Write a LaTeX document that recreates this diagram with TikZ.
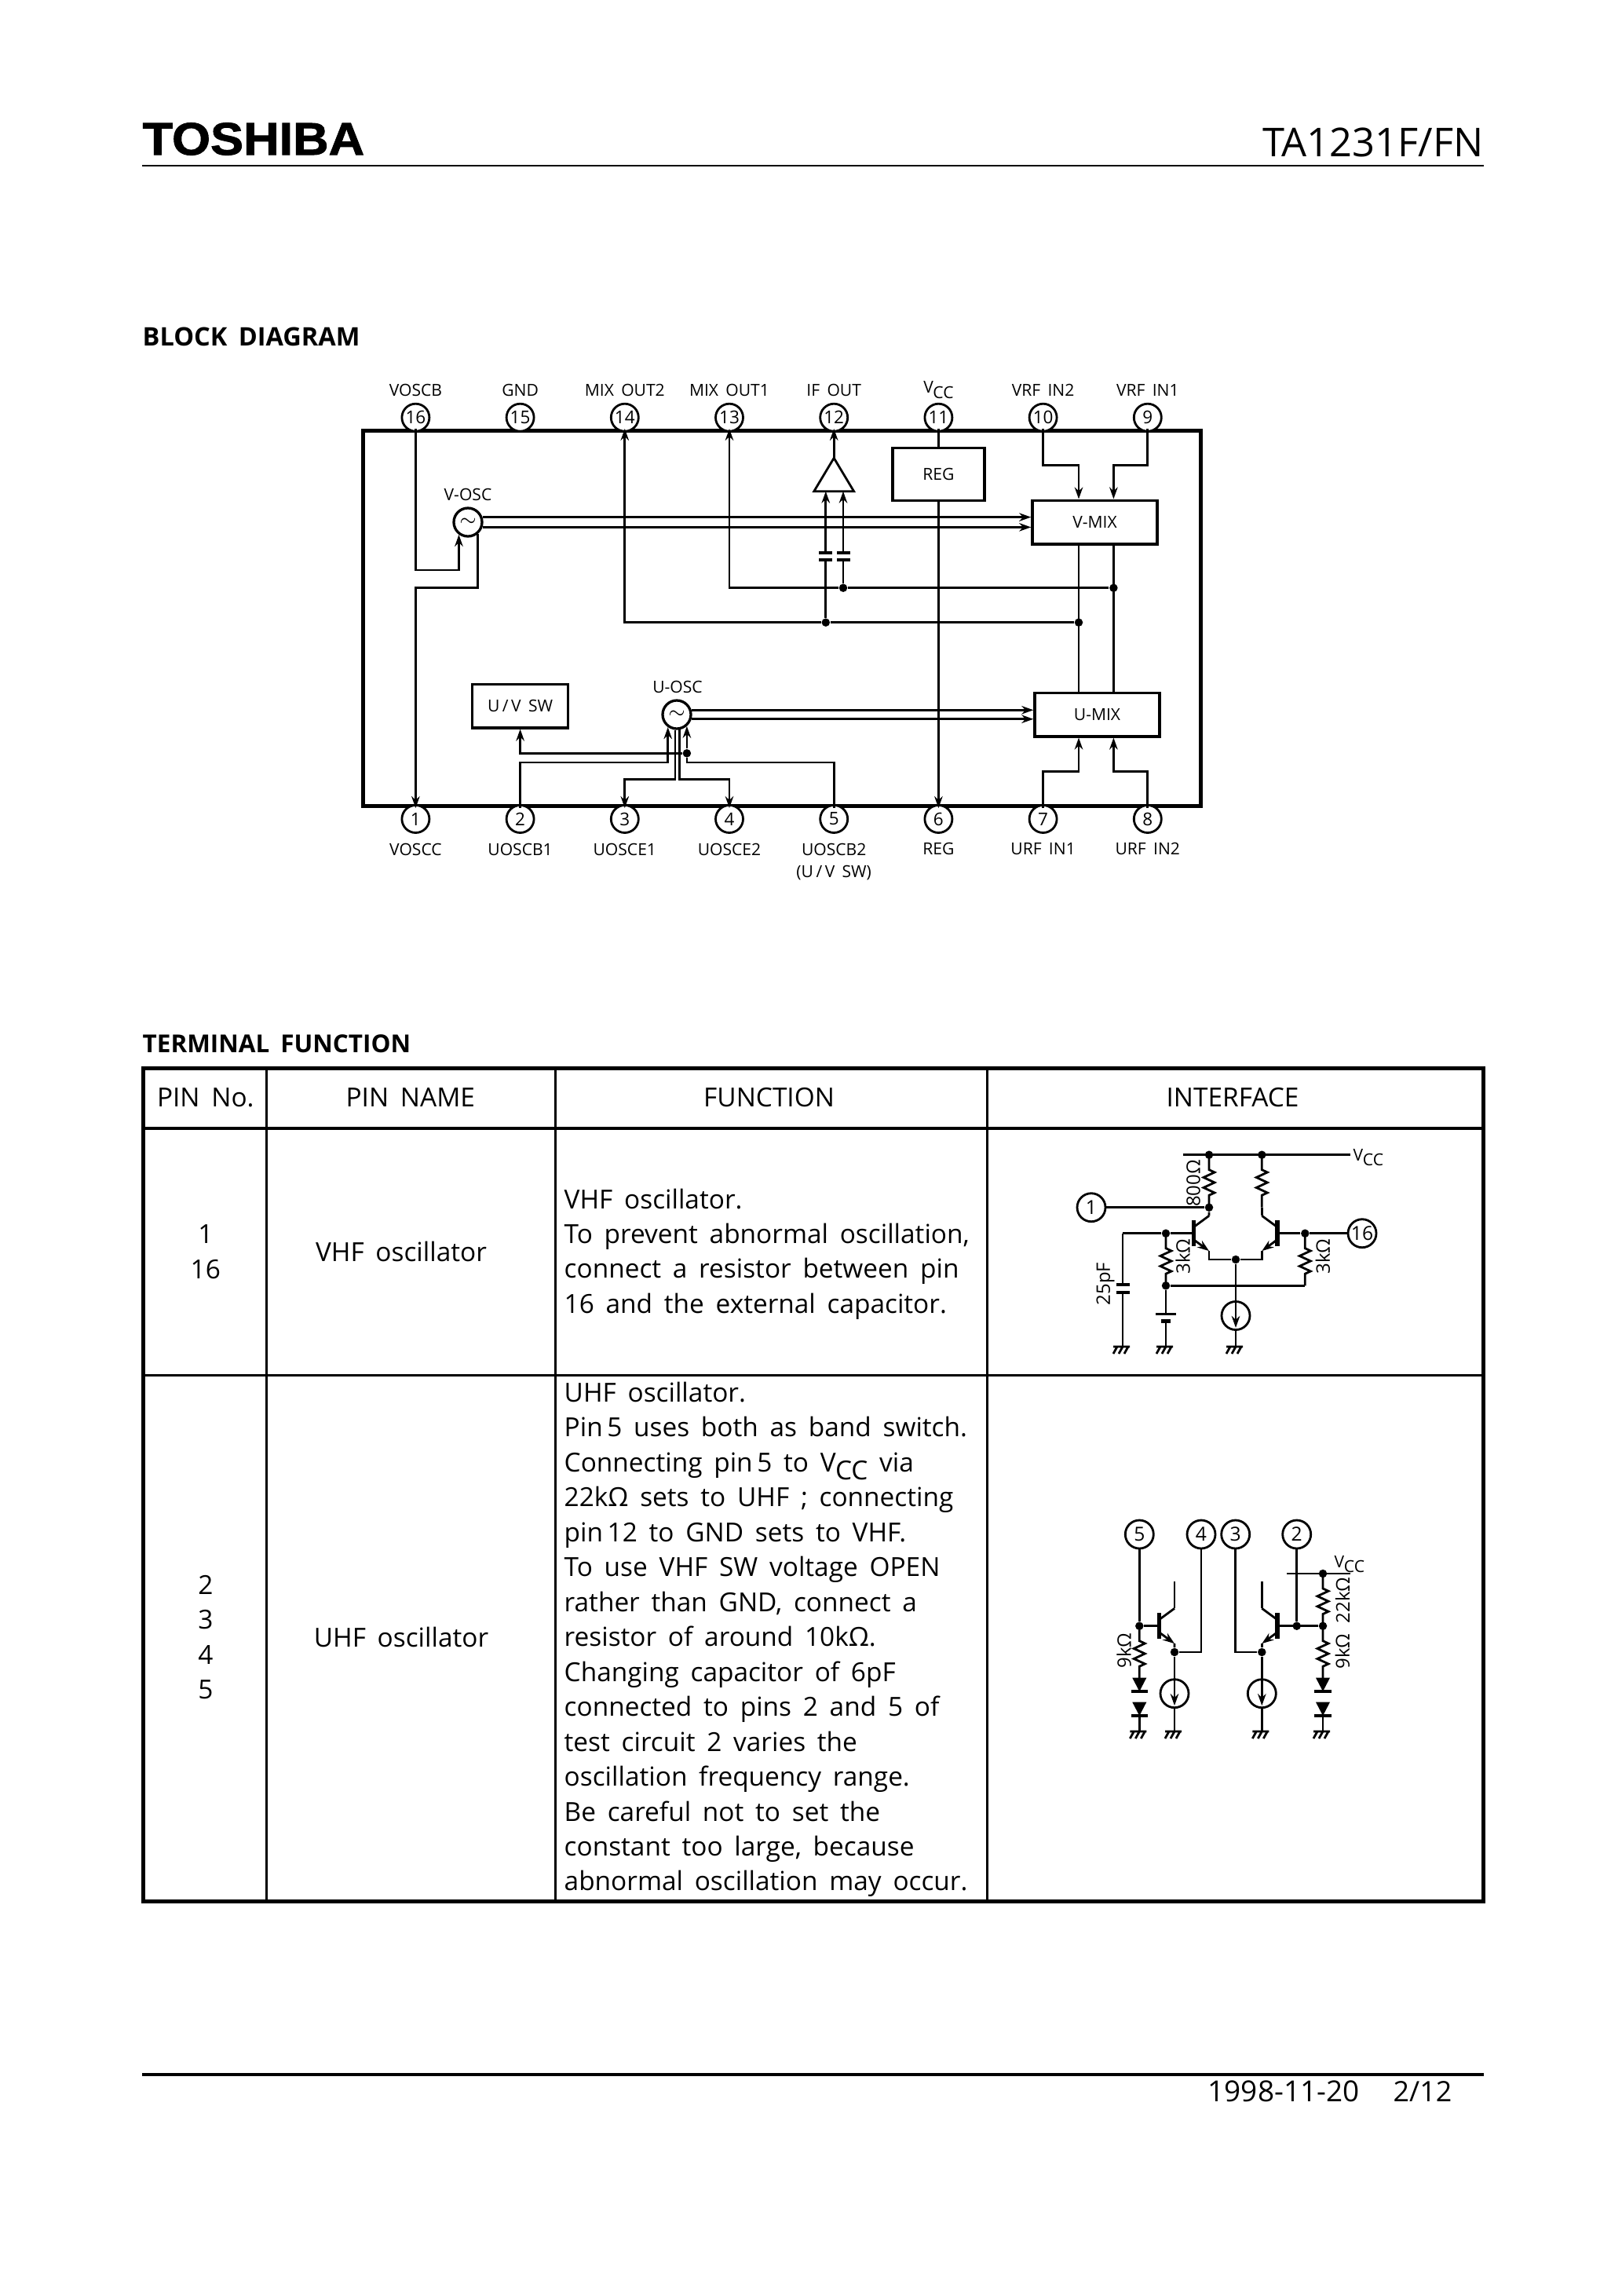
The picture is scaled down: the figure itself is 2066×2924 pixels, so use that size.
\documentclass[tikz,border=0pt]{standalone}
\usepackage{fontspec}
\setmainfont[WordSpace=1.7]{Open Sans}
\newfontfamily\logofont[FakeStretch=1.08,BoldFeatures={FakeBold=1.6}]{Liberation Sans}
\usetikzlibrary{shapes.geometric, arrows.meta, decorations.pathmorphing, calc}
\newcommand{\vcc}{V\kern-.02em\raisebox{-.3em}{CC}}

\begin{document}
\begin{tikzpicture}[x=0.1mm, y=-0.1mm,
    sig/.style={line width=.28mm},
    ar/.style={sig, -{Stealth[length=1.5mm,width=1.05mm]}},
    lab/.style={font=\fontsize{6}{8.2}\selectfont, inner sep=0, align=center},
    rlab/.style={font=\fontsize{6.8}{8}\selectfont, inner sep=0, rotate=90},
    pin/.style={circle, draw, sig, fill=white, inner sep=0, minimum size=3.5mm, font=\fontsize{6.4}{7}\selectfont},
    pinb/.style={pin, minimum size=3.6mm, font=\fontsize{7}{8}\selectfont},
    blk/.style={rectangle, draw, line width=.35mm, fill=white, inner sep=0, font=\fontsize{6}{7}\selectfont},
    osc/.style={circle, draw, line width=.33mm, fill=white, inner sep=0, minimum size=3.6mm, font=\fontsize{7}{7}\selectfont},
    dotn/.style={circle, fill=black, inner sep=0, minimum size=1.05mm},
    isrc/.style={circle, draw, sig, minimum size=3.6mm, inner sep=0},
    zz/.style={decorate, decoration={zigzag, segment length=1.3mm, amplitude=.7mm, pre length=1.9mm, post length=1.3mm}},
    cell/.style={inner sep=0, align=left, font=\fontsize{9.5}{12.65}\selectfont},
    ccell/.style={cell, align=center},
    head/.style={inner sep=0, anchor=west, font=\fontsize{9.25}{11}\selectfont\bfseries},
    tabo/.style={line width=.5mm},
    tabh/.style={line width=.4mm},
    tabi/.style={line width=.25mm},
    capv/.pic={\fill (-8.5,-6.8) rectangle (8.5,-2.8); \fill (-8.5,2.8) rectangle (8.5,6.8);},
    batt/.pic={\fill (-13,-5.8) rectangle (13,-3.2); \fill (-6,2.5) rectangle (6,6.8);},
    dio/.pic={\fill (-9,0) -- (9,0) -- (0,17.3) -- cycle; \fill (-10.7,15.3) rectangle (10.7,19.3);},
    gnd/.pic={\draw[sig] (-12,0) -- (9,0) (-7,0) -- (-12,9) (0,0) -- (-5,9) (7,0) -- (2,9);},
    npn/.pic={\draw[line width=.55mm] (0,-16.5) -- (0,16.5);
        \draw[sig] (0,-8) -- (19.6,-22.4) coordinate (-c);
        \draw[ar] (0,8) -- (19.6,22.4) coordinate (-e);
        \coordinate (-b) at (0,0);}]
\useasboundingbox (0,0) rectangle (2066,2924);

% Page head and foot
\node[inner sep=0, anchor=west] (logo) at (181,177) {\logofont\fontsize{16.6}{18}\selectfont\bfseries TOSHIBA};
\node[inner sep=0, anchor=east] (part) at (1890,181) {\fontsize{14.4}{17}\selectfont TA1231F/FN};
\coordinate (hl) at (181,211); \coordinate (hr) at (1890,211);
\draw[line width=.27mm] (hl) -- (hr);
\coordinate (fl) at (181,2642); \coordinate (fr) at (1890,2642);
\draw[line width=.33mm] (fl) -- (fr);
\node[inner sep=0, anchor=west] (date) at (1538,2663) {\fontsize{10.5}{12}\selectfont 1998-11-20};
\node[inner sep=0, anchor=west] (page) at (1774,2663) {\fontsize{10.2}{12}\selectfont 2/12};
\node[head] (hblock) at (181,429) {BLOCK DIAGRAM};
\node[head, font=\fontsize{8.95}{11}\selectfont\bfseries] (hterm) at (181,1329) {TERMINAL FUNCTION};

% Block diagram frame and pins
\node[draw, line width=.55mm, inner sep=0, minimum width=106.7mm, minimum height=47.76mm] (ic) at (996,787.5) {};
\foreach \n/\x/\t in {16/529.4/VOSCB, 15/662.6/GND, 14/795.8/MIX OUT2, 13/929/MIX OUT1, 12/1062.2/IF OUT, 11/1195.4/\vcc, 10/1328.6/VRF IN2, 9/1461.8/VRF IN1} {
    \node[pin] (p\n) at (\x,531.7) {\n};
    \node[lab] (l\n) at (\x,496.7) {\t};
}
\foreach \n/\x/\t in {1/529.4/VOSCC, 2/662.6/UOSCB1, 3/795.8/UOSCE1, 4/929/UOSCE2, 5/1062.2/{UOSCB2\\(U\,/\,V SW)}, 6/1195.4/REG, 7/1328.6/URF IN1, 8/1461.8/URF IN2} {
    \node[pin] (p\n) at (\x,1043) {\n};
    \node[lab, anchor=north] (l\n) at (\x,1073) {\t};
}

% Blocks
\node[blk, minimum width=11.7mm, minimum height=6.7mm] (reg) at (1195.4,604) {REG};
\node[blk, minimum width=15.9mm, minimum height=5.55mm] (vmix) at (1394.5,665) {V-MIX};
\node[blk, minimum width=15.9mm, minimum height=5.55mm] (umix) at (1397.5,910) {U-MIX};
\node[blk, minimum width=12.2mm, minimum height=5.55mm] (uvsw) at (662.6,899) {U\,/\,V SW};
\node[osc] (vosc) at (596,665) {$\sim$};
\node[lab] (lvosc) at (596,630) {V-OSC};
\node[osc] (uosc) at (862,910) {$\sim$};
\node[lab] (luosc) at (863,875) {U-OSC};
\node[draw, sig, isosceles triangle, shape border rotate=90, isosceles triangle stretches, inner sep=0, outer sep=0, minimum width=5.08mm, minimum height=4.24mm, anchor=apex] (amp) at (1062.2,583.3) {};

% Junctions
\node[dotn] (j1) at (1051.8,792.7) {};
\node[dotn] (j2) at (1374,792.7) {};
\node[dotn] (j3) at (1074,748.7) {};
\node[dotn] (j4) at (1418.4,748.7) {};
\node[dotn] (j5) at (uosc.-49 |- 0,959.3) {};

% Oscillator connections
\draw[ar] (vosc.19) -- (vosc.19 -| vmix.west);
\draw[ar] (vosc.-19) -- (vosc.-19 -| vmix.west);
\draw[ar] (uosc.17) -- (uosc.17 -| umix.west);
\draw[ar] (uosc.-17) -- (uosc.-17 -| umix.west);
\draw[ar] (p16 |- ic.north) |- (vosc.-126 |- 0,726) -- (vosc.-126);
\draw[ar] (vosc.-50) |- (p1 |- 0,748.7) -- (p1 |- ic.south);
\draw[ar] (j5) -- (uosc.-49);
\draw[ar] (j5) -| (uvsw.south);
\draw[sig] (p5 |- ic.south) |- (j5 |- 0,971) -- (j5);
\draw[ar] (p2 |- ic.south) |- (uosc.-125 |- 0,971) -- (uosc.-125);
\draw[ar] (uosc.-96) |- (p3 |- 0,992.7) -- (p3 |- ic.south);
\draw[ar] (uosc.-79) |- (p4 |- 0,992.7) -- (p4 |- ic.south);

% Mixer connections
\draw[sig] (j2) -- (j1);
\draw[ar] (j1) -- (j1 -| p14) -- (p14 |- ic.north);
\draw[sig] (j4) -- (j3);
\draw[ar] (j3) -- (j3 -| p13) -- (p13 |- ic.north);
\draw[sig] (vmix.south -| j2) -- (umix.north -| j2);
\draw[sig] (vmix.south -| j4) -- (umix.north -| j4);
\draw[ar] (p10 |- ic.north) |- (j2 |- 0,592.7) -- (j2 |- vmix.north);
\draw[ar] (p9 |- ic.north) |- (j4 |- 0,592.7) -- (j4 |- vmix.north);
\draw[ar] (p7 |- ic.south) |- (j2 |- 0,982.3) -- (j2 |- umix.south);
\draw[ar] (p8 |- ic.south) |- (j4 |- 0,982.3) -- (j4 |- umix.south);
\draw[sig] (p11 |- ic.north) -- (reg.north);
\draw[ar] (reg.south) -- (p6 |- ic.south);

% IF amplifier
\draw[ar] (amp.apex) -- (p12 |- ic.north);
\pic at (j1 |- 0,708.6) {capv};
\pic at (j3 |- 0,708.6) {capv};
\draw[ar] (j1 |- 0,704) -- (j1 |- amp.left corner);
\draw[ar] (j3 |- 0,704) -- (j3 |- amp.left corner);
\draw[sig] (j1 |- 0,713) -- (j1);
\draw[sig] (j3 |- 0,713) -- (j3);

% Table
\coordinate (tl) at (182.5,1360); \coordinate (br) at (1889,2421);
\draw[tabo] (tl) rectangle (br);
\draw[tabh] (tl |- 0,1437) -- (br |- 0,1437);
\draw[tabi] (tl |- 0,1751.3) -- (br |- 0,1751.3);
\foreach \x in {339.6,707.4,1257.4} {
    \draw[tabi] (\x,1360) -- (\x,2421);
}
\node[ccell] (t1) at (261.8,1398) {PIN No.};
\node[ccell] (t2) at (522.8,1398) {PIN NAME};
\node[ccell] (t3) at (979.6,1398) {FUNCTION};
\node[ccell] (t4) at (1570,1398) {INTERFACE};
\node[ccell] (r1a) at (261.8,1594) {1\\16};
\node[ccell] (r1b) at (511,1594) {VHF oscillator};
\node[cell, anchor=west] (r1c) at (718,1597) {VHF oscillator.\\To prevent abnormal oscillation,\\connect a resistor between pin\\16 and the external capacitor.};
\node[ccell] (r2a) at (261.8,2085) {2\\3\\4\\5};
\node[ccell] (r2b) at (511,2085) {UHF oscillator};
\node[cell, anchor=west] (r2c) at (718,2088) {UHF oscillator.\\Pin\,5 uses both as band switch.\\Connecting pin\,5 to \vcc{} via\\22kΩ sets to UHF ; connecting\\pin\,12 to GND sets to VHF.\\To use VHF SW voltage OPEN\\rather than GND, connect a\\resistor of around 10kΩ.\\Changing capacitor of 6pF\\connected to pins 2 and 5 of\\test circuit 2 varies the\\oscillation frequency range.\\Be careful not to set the\\constant too large, because\\abnormal oscillation may occur.};

% Interface of pins 1 and 16
\node[pinb] (a1) at (1390,1537.7) {1};
\node[pinb] (a16) at (1735,1570.7) {16};
\coordinate (vl) at (1506.7,1470.7); \coordinate (vr) at (1720,1470.7);
\node[dotn] (na) at (1540,1470.7) {};
\node[dotn] (nb) at (1607.3,1470.7) {};
\node[dotn] (nc) at (1540,1537.7) {};
\node[dotn] (nd) at (1485,1570.7) {};
\node[dotn] (ne) at (1662.3,1570.7) {};
\node[dotn] (nf) at (1574,1604) {};
\node[dotn] (ng) at (1485,1637.3) {};
\coordinate (cpa) at (1430,1570.7);
\coordinate (nh) at (1662.3,1637.3);
\pic (qa) at (1520.4,1570.7) {npn};
\pic (qb) [xscale=-1] at (1626.9,1570.7) {npn};
\node[isrc] (ia) at (1574,1675.5) {};
\draw[sig] (vl) -- (vr);
\node[lab, anchor=west] (lva) at (1723,1474) {\vcc};
\draw[sig, zz] (na.center) -- (nc.center);
\draw[sig, zz] (nb.center) -- (nb |- nc);
\draw[sig] (nb |- nc) -- (qb-c);
\draw[sig] (a1) -- (nc);
\draw[sig] (nc) -- (qa-c);
\draw[sig] (qa-e) |- (nf);
\draw[sig] (qb-e) |- (nf);
\draw[sig] (cpa) -- (nd) -- (qa-b);
\draw[sig] (qb-b) -- (ne) -- (a16);
\draw[sig, zz] (nd.center) -- (ng.center);
\draw[sig, zz] (ne.center) -- (nh);
\draw[sig] (ng) -- (nh);
\draw[sig] (cpa) -- (cpa |- 0,1636);
\pic at (cpa |- 0,1641) {capv};
\draw[sig] (cpa |- 0,1646) -- (cpa |- 0,1715);
\pic at (cpa |- 0,1715) {gnd};
\draw[sig] (ng) -- (ng |- 0,1673);
\pic at (ng |- 0,1677.8) {batt};
\draw[sig] (ng |- 0,1682) -- (ng |- 0,1715);
\pic at (ng |- 0,1715) {gnd};
\draw[sig] (nf) -- (ia);
\draw[ar] (ia.north) -- ([yshift=.4mm]ia.south);
\draw[sig] (ia) -- (ia |- 0,1715);
\pic at (ia |- 0,1715) {gnd};
\node[rlab] (ra) at (1520,1507) {800Ω};
\node[rlab] (rb) at (1506.7,1600) {3kΩ};
\node[rlab] (rc) at (1685,1600) {3kΩ};
\node[rlab] (rd) at (1408,1635) {25pF};

% Interface of pins 2 to 5
\node[pinb] (b5) at (1451.3,1954) {5};
\node[pinb] (b4) at (1530,1954) {4};
\node[pinb] (b3) at (1573.7,1954) {3};
\node[pinb] (b2) at (1651.7,1954) {2};
\node[dotn] (ma) at (1451.3,2070.7) {};
\node[dotn] (mb) at (1496,2104) {};
\node[dotn] (mc) at (1607.3,2104) {};
\node[dotn] (md) at (1651.7,2070.7) {};
\node[dotn] (me) at (1685,2070.7) {};
\node[dotn] (mf) at (1685,2004) {};
\coordinate (wl) at (1639.3,2004); \coordinate (wr) at (1720,2004);
\pic (qc) at (1476.4,2070.7) {npn};
\pic (qd) [xscale=-1] at (1626.9,2070.7) {npn};
\node[isrc] (ib) at (1496,2156.7) {};
\node[isrc] (ic2) at (1607.3,2156.7) {};
\draw[sig] (b5) -- (ma);
\draw[sig] (ma) -- (qc-b);
\draw[sig, zz] (ma.center) -- (ma |- 0,2137);
\pic at (ma |- 0,2136.7) {dio};
\pic at (ma |- 0,2167.7) {dio};
\draw[sig] (ma |- 0,2187) -- (ma |- 0,2205);
\pic at (ma |- 0,2205) {gnd};
\draw[sig] (qc-c) -- (qc-c |- 0,2014);
\draw[sig] (qc-e) -- (mb);
\draw[sig] (mb) -| (b4);
\draw[sig] (mb) -- (ib);
\draw[ar] (ib.north) -- ([yshift=.4mm]ib.south);
\draw[sig] (ib) -- (ib |- 0,2205);
\pic at (ib |- 0,2205) {gnd};
\draw[sig] (b3) |- (mc);
\draw[sig] (qd-e) -- (mc);
\draw[sig] (mc) -- (ic2);
\draw[ar] (ic2.north) -- ([yshift=.4mm]ic2.south);
\draw[sig] (ic2) -- (ic2 |- 0,2205);
\pic at (ic2 |- 0,2205) {gnd};
\draw[sig] (qd-c) -- (qd-c |- 0,2014);
\draw[sig] (qd-b) -- (me);
\draw[sig] (b2) -- (md);
\draw[sig] (wl) -- (wr);
\node[lab, anchor=west] (lvb) at (1699,1992) {\vcc};
\draw[sig, zz] (mf.center) -- (me.center);
\draw[sig, zz] (me.center) -- (me |- 0,2137);
\pic at (me |- 0,2136.7) {dio};
\pic at (me |- 0,2167.7) {dio};
\draw[sig] (me |- 0,2187) -- (me |- 0,2205);
\pic at (me |- 0,2205) {gnd};
\node[rlab] (rf) at (1431.7,2102) {9kΩ};
\node[rlab] (rg) at (1710,2038) {22kΩ};
\node[rlab] (rh) at (1710,2103) {9kΩ};

\end{tikzpicture}
\end{document}
